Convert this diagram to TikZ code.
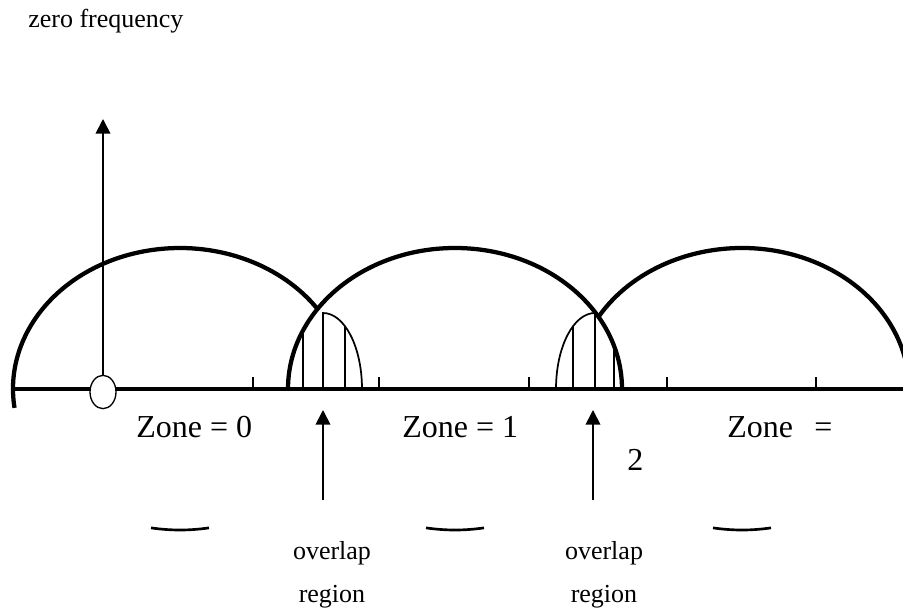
\documentclass[tikz,border=0pt]{standalone}
\usepackage{fontspec}
\setmainfont{Liberation Serif}
\usetikzlibrary{arrows.meta,shapes.geometric}

\begin{document}
\begin{tikzpicture}[x=0.75pt,y=0.75pt,yscale=-1,xscale=1,
    zonearc/.style={line width=3.2pt},
    thinline/.style={line width=1.3pt},
    uparrow/.style={line width=1.3pt,-{Triangle[length=11pt,width=11pt]}},
    biglbl/.style={inner sep=0pt,font=\fontsize{24}{28}\selectfont},
    smalllbl/.style={inner sep=0pt,font=\fontsize{19.5}{23}\selectfont}]
        \useasboundingbox (0,0) rectangle (903,609);
        \clip (0,0) rectangle (903,609);

        %Centres of the zone curves
        \coordinate (z0) at (180,389);
        \coordinate (z1) at (455,389);
        \coordinate (z2) at (742,389);

        %Straight Lines [frequency axis]
        \draw [zonearc] (15,389) -- (903,389);
        %Straight Lines [ticks]
        \foreach \x in {253,379,529,667,816}
            \draw [thinline] (\x,389) -- (\x,377);

        %Shape: Arc [zone 0]
        \draw [zonearc] (z0) ++(172.3:167 and 141) arc [start angle=172.3, end angle=325.4, x radius=167, y radius=141];
        %Shape: Arc [zone 1]
        \draw [zonearc] (z1) ++(180:167 and 141) arc [start angle=180, end angle=360, x radius=167, y radius=141];
        %Shape: Arc [zone 2]
        \draw [zonearc] (z2) ++(210.8:167 and 141) arc [start angle=210.8, end angle=360, x radius=167, y radius=141];

        %Shape: Arc [bottoms]
        \foreach \c in {z0,z1,z2}
            \draw [line width=2pt] (\c) ++(80:167 and 141) arc [start angle=80, end angle=100, x radius=167, y radius=141];

        %Shape: Arc [overlap 0/1]
        \draw [thinline] (323,389) -- (323,313) arc [start angle=270, end angle=360, x radius=39, y radius=76];
        \draw [thinline] (303,389) -- (303,334);
        \draw [thinline] (345,389) -- (345,326);
        %Shape: Arc [overlap 1/2]
        \draw [thinline] (556,389) arc [start angle=180, end angle=270, x radius=39, y radius=76] -- (595,389);
        \draw [thinline] (573,389) -- (573,326);
        \draw [thinline] (614,389) -- (614,346);

        %Zero frequency marker
        \node [ellipse, draw, fill=white, line width=1pt, inner sep=0pt, minimum width=19.5pt, minimum height=25pt] (dc) at (103,392) {};
        \coordinate (dctip) at (103,119);
        \draw [uparrow] (dc) -- (dctip);

        %Straight Lines [overlap arrows]
        \coordinate (ov0) at (323,500);
        \coordinate (ov0tip) at (323,410);
        \coordinate (ov1) at (593,500);
        \coordinate (ov1tip) at (593,410);
        \draw [uparrow] (ov0) -- (ov0tip);
        \draw [uparrow] (ov1) -- (ov1tip);

        % Text Node
        \node [smalllbl, anchor=base west] (zf) at (28,28) {zero frequency};
        % Text Node
        \node [biglbl, anchor=base west] (zn0) at (136,437) {Zone = 0};
        % Text Node
        \node [biglbl, anchor=base west] (zn1) at (402,437) {Zone = 1};
        % Text Node
        \node [biglbl, anchor=base west] (zn2) at (727,437) {Zone\hspace{16pt}=};
        % Text Node
        \node [biglbl, anchor=base west] (zn2b) at (627,470) {2};
        % Text Node
        \node [smalllbl, anchor=base] (ovl0) at (332,559) {overlap};
        % Text Node
        \node [smalllbl, anchor=base] (reg0) at (332,602) {region};
        % Text Node
        \node [smalllbl, anchor=base] (ovl1) at (604,559) {overlap};
        % Text Node
        \node [smalllbl, anchor=base] (reg1) at (604,602) {region};

    \end{tikzpicture}
\end{document}
